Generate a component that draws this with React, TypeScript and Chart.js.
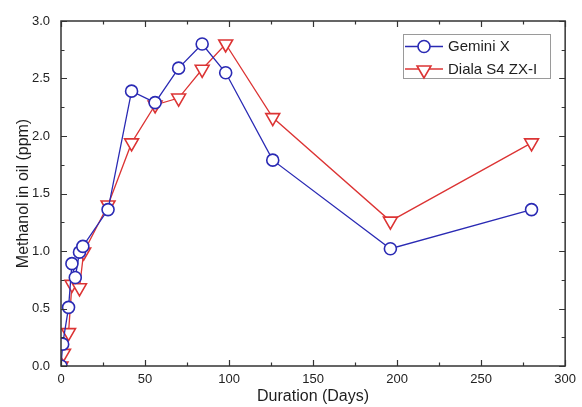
import { useEffect, useRef } from "react";
import { Chart, registerables } from "chart.js";

Chart.register(...registerables);

// Methanol content of two transformer oils over the ageing period
const daysGemini = [0, 1, 4.5, 6.5, 8.5, 11, 13, 28, 42, 56, 70, 84, 98, 126, 196, 280];
const methanolGemini = [0, 0.19, 0.51, 0.89, 0.77, 0.99, 1.04, 1.36, 2.39, 2.29, 2.59, 2.8, 2.55, 1.79, 1.02, 1.36];

const daysDiala = [0, 1.5, 4.5, 6.5, 11, 13.5, 28, 42, 56, 70, 84, 98, 126, 196, 280];
const methanolDiala = [0, 0.11, 0.29, 0.71, 0.68, 0.99, 1.4, 1.94, 2.27, 2.33, 2.58, 2.8, 2.16, 1.26, 1.94];

const seriesNames = ["Gemini X", "Diala S4 ZX-I"];
const seriesColors = ["#2a2ab4", "#dc3434"];

const FONT = "'Liberation Sans', Arial, sans-serif";
const AXIS_COLOR = "#333333";

// Closed frame with inward major/minor ticks on all four sides
const framePlugin = {
  id: "frameTicks",
  afterDatasetsDraw(chart: any) {
    const { ctx, chartArea, scales } = chart;
    const { left, right, top, bottom } = chartArea;
    const x = scales.x;
    const y = scales.y;
    ctx.save();
    ctx.strokeStyle = AXIS_COLOR;
    ctx.lineWidth = 1.5;
    ctx.strokeRect(left, top, right - left, bottom - top);
    ctx.lineWidth = 1.2;
    ctx.beginPath();
    for (let v = 0; v <= 300; v += 25) {
      const px = Math.round(x.getPixelForValue(v)) + 0.5;
      const len = v % 50 === 0 ? 6 : 3.5;
      ctx.moveTo(px, bottom);
      ctx.lineTo(px, bottom - len);
      ctx.moveTo(px, top);
      ctx.lineTo(px, top + len);
    }
    for (let i = 0; i <= 12; i++) {
      const v = i * 0.25;
      const py = Math.round(y.getPixelForValue(v)) + 0.5;
      const len = i % 2 === 0 ? 6 : 3.5;
      ctx.moveTo(left, py);
      ctx.lineTo(left + len, py);
      ctx.moveTo(right, py);
      ctx.lineTo(right - len, py);
    }
    ctx.stroke();
    ctx.restore();
  },
};

function drawCircle(ctx: CanvasRenderingContext2D, cx: number, cy: number, r: number, color: string) {
  ctx.beginPath();
  ctx.arc(cx, cy, r, 0, Math.PI * 2);
  ctx.fillStyle = "#ffffff";
  ctx.fill();
  ctx.strokeStyle = color;
  ctx.lineWidth = 1.6;
  ctx.stroke();
}

function drawDownTriangle(ctx: CanvasRenderingContext2D, cx: number, cy: number, r: number, color: string) {
  ctx.beginPath();
  for (let k = 0; k < 3; k++) {
    const a = Math.PI + (k * 2 * Math.PI) / 3;
    const px = cx + Math.sin(a) * r;
    const py = cy - Math.cos(a) * r;
    if (k === 0) ctx.moveTo(px, py);
    else ctx.lineTo(px, py);
  }
  ctx.closePath();
  ctx.fillStyle = "#ffffff";
  ctx.fill();
  ctx.strokeStyle = color;
  ctx.lineWidth = 1.6;
  ctx.stroke();
}

// Boxed legend showing line + marker for each series
const legendPlugin = {
  id: "lineMarkerLegend",
  afterDraw(chart: any) {
    const { ctx } = chart;
    const boxL = 403.5;
    const boxT = 34.5;
    const boxW = 147;
    const boxH = 44;
    const rows = [46.5, 69];
    ctx.save();
    ctx.fillStyle = "#ffffff";
    ctx.fillRect(boxL, boxT, boxW, boxH);
    ctx.strokeStyle = "#9a9a9a";
    ctx.lineWidth = 1;
    ctx.strokeRect(boxL, boxT, boxW, boxH);
    seriesNames.forEach((name, i) => {
      const cy = rows[i];
      const color = seriesColors[i];
      ctx.strokeStyle = color;
      ctx.lineWidth = 1.3;
      ctx.beginPath();
      ctx.moveTo(405, cy);
      ctx.lineTo(443, cy);
      ctx.stroke();
      if (i === 0) drawCircle(ctx, 424, cy, 6, color);
      else drawDownTriangle(ctx, 424, cy + 1, 8, color);
      ctx.fillStyle = "#1e1e1e";
      ctx.font = `15px ${FONT}`;
      ctx.textAlign = "left";
      ctx.textBaseline = "middle";
      ctx.fillText(name, 448, cy + 0.5);
    });
    ctx.restore();
  },
};

export default function App() {
  const canvasRef = useRef<HTMLCanvasElement | null>(null);

  useEffect(() => {
    if (!canvasRef.current) return;
    const toPoints = (xs: number[], ys: number[]) => xs.map((d, i) => ({ x: d, y: ys[i] }));
    const chart = new Chart(canvasRef.current, {
      type: "line",
      data: {
        datasets: [
          {
            label: seriesNames[0],
            data: toPoints(daysGemini, methanolGemini),
            borderColor: seriesColors[0],
            borderWidth: 1.3,
            pointStyle: "circle",
            pointRadius: 6,
            pointBorderWidth: 1.6,
            pointBorderColor: seriesColors[0],
            pointBackgroundColor: "#ffffff",
            tension: 0,
          },
          {
            label: seriesNames[1],
            data: toPoints(daysDiala, methanolDiala),
            borderColor: seriesColors[1],
            borderWidth: 1.3,
            pointStyle: "triangle",
            rotation: 180,
            pointRadius: 8,
            pointBorderWidth: 1.6,
            pointBorderColor: seriesColors[1],
            pointBackgroundColor: "#ffffff",
            tension: 0,
          },
        ],
      },
      options: {
        animation: false,
        responsive: false,
        devicePixelRatio: 1,
        layout: { padding: { top: 21, right: 11, left: 0, bottom: 0 } },
        plugins: {
          legend: { display: false },
          tooltip: { enabled: false },
        },
        scales: {
          x: {
            type: "linear",
            min: 0,
            max: 300,
            border: { display: false },
            grid: { display: false, drawTicks: false },
            ticks: {
              stepSize: 50,
              padding: 6,
              color: "#222222",
              font: { family: FONT, size: 13 },
              maxRotation: 0,
            },
            title: {
              display: true,
              text: "Duration (Days)",
              color: "#1e1e1e",
              font: { family: FONT, size: 16 },
              padding: { top: 0, bottom: 1 },
            },
            afterFit(scale: any) {
              scale.height = 41;
            },
          },
          y: {
            type: "linear",
            min: 0,
            max: 3,
            border: { display: false },
            grid: { display: false, drawTicks: false },
            ticks: {
              stepSize: 0.5,
              padding: 11,
              color: "#222222",
              font: { family: FONT, size: 13 },
              callback: (v: any) => Number(v).toFixed(1),
            },
            title: {
              display: true,
              text: "Methanol in oil (ppm)",
              color: "#1e1e1e",
              font: { family: FONT, size: 16 },
              padding: { top: 14, bottom: 0 },
            },
            afterFit(scale: any) {
              scale.width = 61;
            },
          },
        },
      },
      plugins: [framePlugin, legendPlugin],
    });
    return () => chart.destroy();
  }, []);

  return (
    <div style={{ position: "absolute", left: 0, top: 0, width: 582, height: 407, background: "#ffffff" }}>
      <canvas ref={canvasRef} width={582} height={407} style={{ display: "block" }} />
    </div>
  );
}
